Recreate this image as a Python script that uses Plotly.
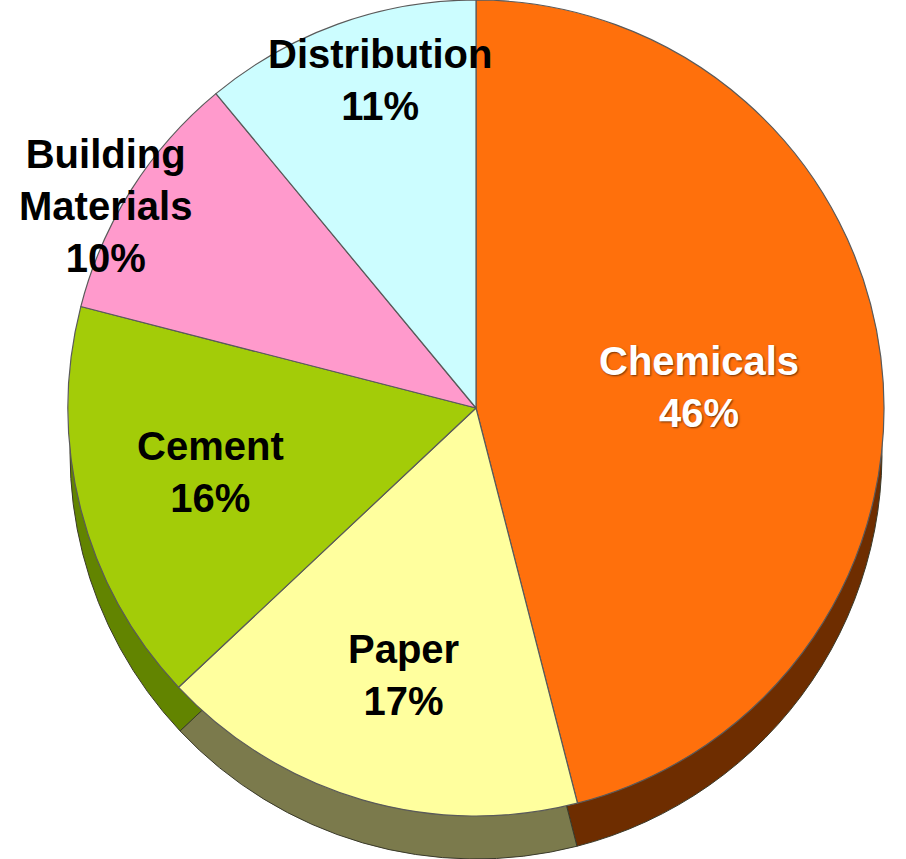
import plotly.graph_objects as go

# Sector shares (percent), in clockwise order starting at 12 o'clock
sectors = ["Chemicals", "Paper", "Cement", "Building<br>Materials", "Distribution"]
shares = [46, 17, 16, 10, 11]

# Face colours and the darker side-wall colours
face_colors = ["#FF700C", "#FFFF9E", "#A3CC08", "#FF9ACC", "#CCFDFF"]
side_colors = ["#6E2D00", "#7B7A4C", "#628400", "#8A4A66", "#6A8A8A"]

# Label block centres in pixels (x, y from top) and text colours
label_px = [(699, 387), (403, 675), (210, 472), (105, 206), (380, 80)]
label_colors = ["white", "black", "black", "black", "black"]

W, H = 906, 859
CX = 476          # pie centre x (px)
R_TOP = 408       # radius of the top face (px)
R_SIDE = 406      # radius of the offset copy forming the side wall
SIDE_CY = H - R_SIDE  # centre y of side copy, measured from the top

def dom_x(cx, r):
    return [(cx - r) / W, (cx + r) / W]

def dom_y(cy_top, r):
    lo = (H - cy_top - r) / H
    hi = (H - cy_top + r) / H
    return [max(lo, 0.0), min(hi, 1.0)]

fig = go.Figure()

# Side wall: same slices, darker, shifted downward
fig.add_trace(go.Pie(
    labels=sectors, values=shares, sort=False, direction="clockwise", rotation=0,
    marker=dict(colors=side_colors, line=dict(color="#3a3a2a", width=1)),
    textinfo="none", hoverinfo="skip", showlegend=False,
    domain=dict(x=dom_x(CX, R_SIDE), y=dom_y(SIDE_CY, R_SIDE)),
))

# Top face
fig.add_trace(go.Pie(
    labels=sectors, values=shares, sort=False, direction="clockwise", rotation=0,
    marker=dict(colors=face_colors, line=dict(color="#5a5a5a", width=1.2)),
    textinfo="none", hoverinfo="label+percent", showlegend=False,
    domain=dict(x=dom_x(CX, R_TOP), y=dom_y(R_TOP, R_TOP)),
))

for name, val, (px, py), col in zip(sectors, shares, label_px, label_colors):
    fig.add_annotation(
        x=px / W, y=1 - py / H, xref="paper", yref="paper",
        xanchor="center", yanchor="middle", showarrow=False,
        text=f"<b>{name}<br>{val}%</b>",
        font=dict(family="Liberation Sans, Arial, sans-serif", size=40, color=col,
                  shadow="1px 1px 2px rgba(0,0,0,0.55)" if col == "white" else "none"),
        align="center",
    )

fig.update_layout(
    width=W, height=H, margin=dict(l=0, r=0, t=0, b=0),
    paper_bgcolor="white", plot_bgcolor="white",
)

fig.write_html("out.html")
